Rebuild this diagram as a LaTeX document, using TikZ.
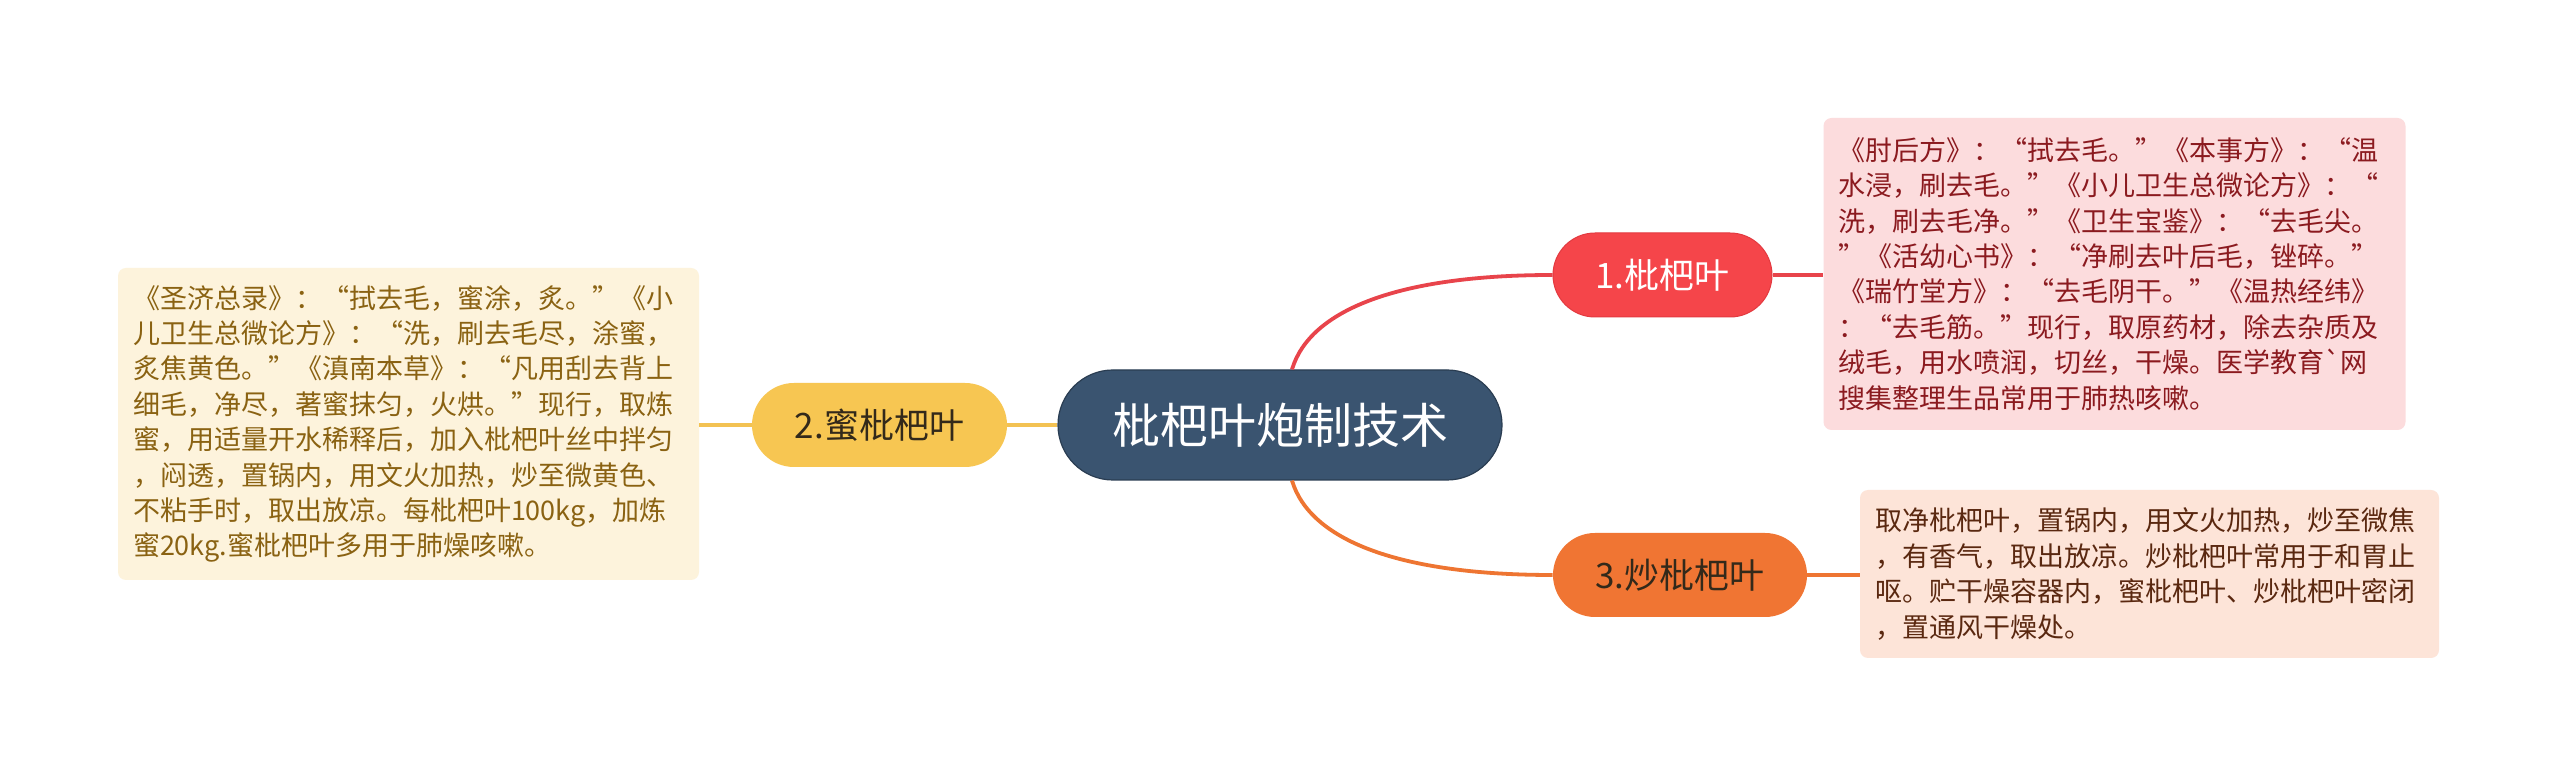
\documentclass[tikz,border=0pt]{standalone}
\usepackage{fontspec}
\setmainfont{Noto Sans CJK SC}[Ligatures=TeXOff]
\definecolor{cmain}{HTML}{3A5470}
\definecolor{cmainb}{HTML}{2A3D52}
\definecolor{cred}{HTML}{F5454A}
\definecolor{credb}{HTML}{E33A40}
\definecolor{credline}{HTML}{E8444B}
\definecolor{cyel}{HTML}{F7C652}
\definecolor{cyelline}{HTML}{F3C253}
\definecolor{corg}{HTML}{F07533}
\definecolor{corgline}{HTML}{EE7532}
\definecolor{bpink}{HTML}{FCDCDD}
\definecolor{tpink}{HTML}{8B1A1F}
\definecolor{bcream}{HTML}{FDF3DC}
\definecolor{tcream}{HTML}{8A6212}
\definecolor{bpeach}{HTML}{FDE4D8}
\definecolor{tpeach}{HTML}{5A2810}
\definecolor{tdark}{HTML}{33291A}
\begin{document}
\begin{tikzpicture}[x=0.5pt,y=-0.5pt,
  mainnode/.style={fill=cmain, draw=cmainb, line width=0.6pt, rounded corners=27.5pt,
    minimum width=222pt, minimum height=55pt, inner sep=0pt, text=white,
    font=\fontsize{24}{28}\selectfont},
  branch/.style={rounded corners=21pt, minimum height=42pt, inner sep=0pt,
    font=\fontsize{17.5}{21}\selectfont},
  infobox/.style={rounded corners=4pt, inner xsep=7.5pt, inner ysep=0pt,
    align=left, font=\fontsize{13.5}{17.7}\selectfont},
  link/.style={line width=1.9pt}
]
\useasboundingbox (0,0) rectangle (2560,779);
\fill[white] (0,0) rectangle (2560,779);

\node[mainnode] (main) at (1280,425) {枇杷叶炮制技术};

\node[branch, fill=cred, draw=credb, line width=0.5pt, text=white, minimum width=109.5pt] (n1) at (1662.5,275) {1.枇杷叶};
\node[branch, fill=cyel, text=tdark, minimum width=127.5pt] (n2) at (879.5,425) {2.蜜枇杷叶};
\node[branch, fill=corg, text=tdark, minimum width=127pt] (n3) at (1680,575) {3.炒枇杷叶};

\node[infobox, fill=bpink, text=tpink, text width=276pt, minimum height=156pt] (b1) at (2114.5,274) {%
《肘后方》：“拭去毛。”《本事方》：“温\\
水浸，刷去毛。”《小儿卫生总微论方》：“\\
洗，刷去毛净。”《卫生宝鉴》：“去毛尖。\\
”《活幼心书》：“净刷去叶后毛，锉碎。”\\
《瑞竹堂方》：“去毛阴干。”《温热经纬》\\
：“去毛筋。”现行，取原药材，除去杂质及\\
绒毛，用水喷润，切丝，干燥。医学教育\symbol{96}网\\
搜集整理生品常用于肺热咳嗽。};

\node[infobox, fill=bcream, text=tcream, text width=275.5pt, minimum height=156pt] (b2) at (408.5,424) {%
《圣济总录》：“拭去毛，蜜涂，炙。”《小\\
儿卫生总微论方》：“洗，刷去毛尽，涂蜜，\\
炙焦黄色。”《滇南本草》：“凡用刮去背上\\
细毛，净尽，著蜜抹匀，火烘。”现行，取炼\\
蜜，用适量开水稀释后，加入枇杷叶丝中拌匀\\
，闷透，置锅内，用文火加热，炒至微黄色、\\
不粘手时，取出放凉。每枇杷叶100kg，加炼\\
蜜20kg.蜜枇杷叶多用于肺燥咳嗽。};

\node[infobox, fill=bpeach, text=tpeach, text width=274.5pt, minimum height=84pt] (b3) at (2149.5,574) {%
取净枇杷叶，置锅内，用文火加热，炒至微焦\\
，有香气，取出放凉。炒枇杷叶常用于和胃止\\
呕。贮干燥容器内，蜜枇杷叶、炒枇杷叶密闭\\
，置通风干燥处。};

\draw[link, credline] ([xshift=6pt]main.north) .. controls +(18,-60) and +(-153,0) .. (n1.west);
\draw[link, corgline] ([xshift=6pt]main.south) .. controls +(18,60) and +(-153,0) .. (n3.west);
\draw[link, cyelline] (main.west) -- (n2.east);
\draw[link, credline] (n1.east) -- (n1.east -| b1.west);
\draw[link, cyelline] (n2.west) -- (n2.west -| b2.east);
\draw[link, corgline] (n3.east) -- (n3.east -| b3.west);
\end{tikzpicture}
\end{document}
